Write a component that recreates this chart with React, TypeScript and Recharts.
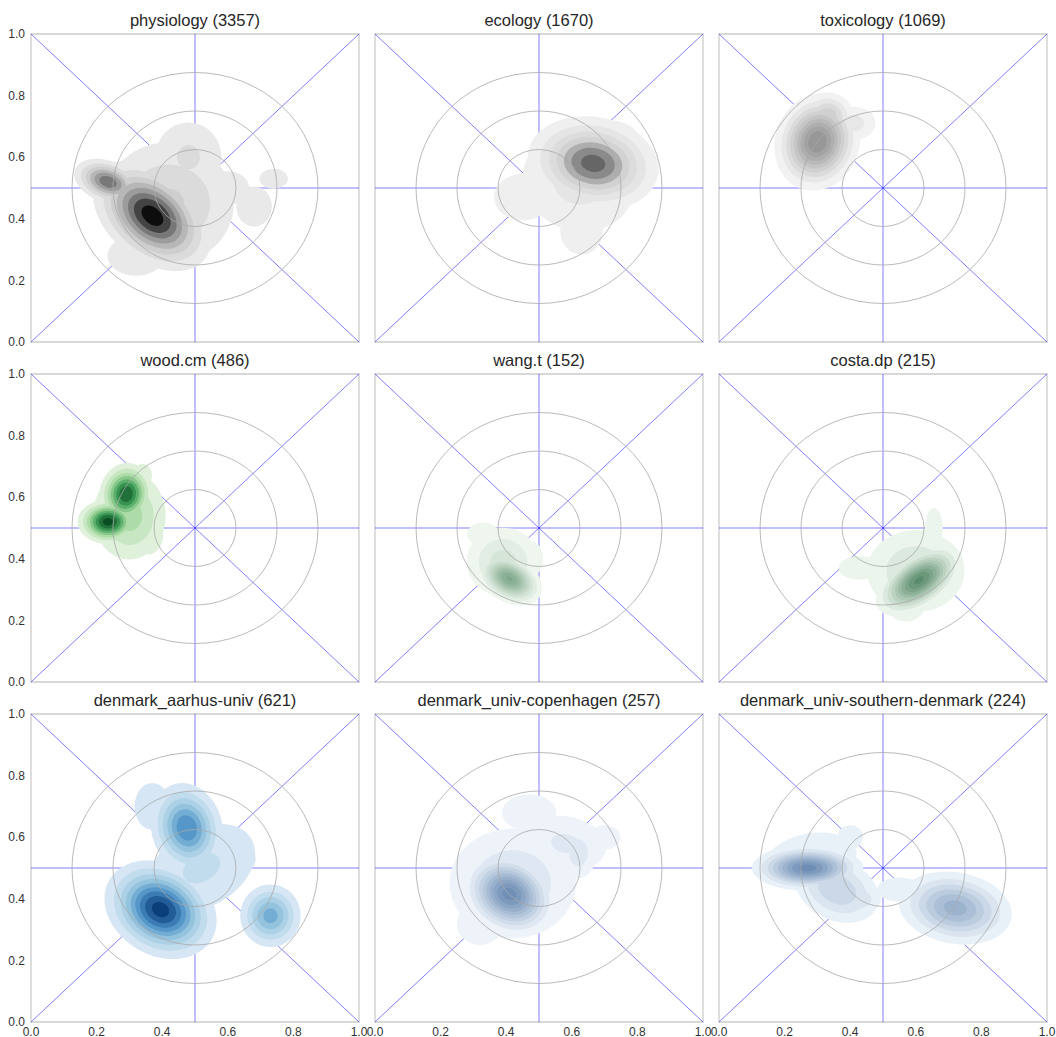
import { ReferenceArea, ReferenceLine, Scatter, ScatterChart, XAxis, YAxis } from "recharts";

// plot geometry (pixels)
const PLOT_W = 328;
const PLOT_H = 308;
const Y_AXIS_W = 31;
const TOP = 34;
const X_AXIS_H = 20;
const RIGHT = 12;
const COL_STRIDE = 344;
const ROW_STRIDE = 340;

const ticks = [0, 0.2, 0.4, 0.6, 0.8, 1.0];
const rings = [0.125, 0.25, 0.375];

// each blob: x, y, sdX, sdY, angle (deg), peak (in contour levels)
type Blob = [number, number, number, number, number, number];

const physiologyBlobs: Blob[] = [
  [0.37, 0.41, 0.1, 0.07, 40, 8.6],
  [0.235, 0.52, 0.055, 0.035, 20, 6.8],
  [0.3, 0.47, 0.06, 0.04, 40, 4],
  [0.42, 0.45, 0.13, 0.13, 0, 3.2],
  [0.48, 0.6, 0.08, 0.09, 0, 2.2],
  [0.32, 0.28, 0.08, 0.06, 0, 1.8],
  [0.74, 0.53, 0.04, 0.03, 0, 1.8],
  [0.68, 0.44, 0.05, 0.06, 0, 1.8],
  [0.6, 0.5, 0.06, 0.05, 0, 1.8],
];

const ecologyBlobs: Blob[] = [
  [0.665, 0.58, 0.1, 0.075, 10, 7.5],
  [0.62, 0.52, 0.13, 0.12, 20, 2.4],
  [0.63, 0.36, 0.06, 0.07, 0, 1.8],
  [0.45, 0.47, 0.08, 0.07, 0, 1.8],
  [0.72, 0.66, 0.07, 0.05, 0, 2],
];

const toxicologyBlobs: Blob[] = [
  [0.3, 0.65, 0.06, 0.075, 20, 10],
  [0.33, 0.73, 0.045, 0.045, 0, 5],
  [0.41, 0.71, 0.05, 0.04, 0, 2.5],
  [0.29, 0.56, 0.04, 0.05, 0, 2.2],
];

const woodBlobs: Blob[] = [
  [0.235, 0.52, 0.045, 0.035, 0, 8.5],
  [0.29, 0.61, 0.04, 0.05, 10, 8],
  [0.3, 0.54, 0.07, 0.09, 0, 3.5],
  [0.36, 0.48, 0.04, 0.06, 0, 1.8],
  [0.34, 0.67, 0.03, 0.04, 0, 1.6],
];

const wangBlobs: Blob[] = [
  [0.41, 0.335, 0.05, 0.035, 30, 10.2],
  [0.39, 0.39, 0.07, 0.07, 0, 3.5],
  [0.33, 0.48, 0.045, 0.035, 0, 1.8],
  [0.48, 0.4, 0.03, 0.05, 0, 1.8],
];

const costaBlobs: Blob[] = [
  [0.61, 0.33, 0.07, 0.04, -35, 10.3],
  [0.6, 0.36, 0.1, 0.09, 0, 3],
  [0.43, 0.37, 0.06, 0.035, 0, 1.8],
  [0.655, 0.5, 0.025, 0.06, 0, 1.8],
  [0.57, 0.24, 0.05, 0.04, 0, 1.8],
];

const aarhusBlobs: Blob[] = [
  [0.395, 0.365, 0.085, 0.07, 30, 9.5],
  [0.475, 0.63, 0.055, 0.075, -15, 7],
  [0.73, 0.345, 0.05, 0.055, 0, 5.5],
  [0.52, 0.5, 0.14, 0.1, -30, 2.2],
  [0.37, 0.7, 0.05, 0.07, 0, 1.8],
  [0.62, 0.53, 0.06, 0.05, 0, 1.8],
  [0.32, 0.45, 0.05, 0.06, 0, 1.8],
];

const copenhagenBlobs: Blob[] = [
  [0.41, 0.415, 0.07, 0.06, 30, 10.5],
  [0.42, 0.45, 0.13, 0.12, 0, 3],
  [0.58, 0.58, 0.1, 0.07, 10, 2.2],
  [0.62, 0.55, 0.04, 0.06, 0, 2.6],
  [0.47, 0.68, 0.07, 0.05, 0, 2],
  [0.32, 0.32, 0.06, 0.06, 0, 2],
  [0.7, 0.6, 0.05, 0.04, 0, 1.6],
];

const southernBlobs: Blob[] = [
  [0.27, 0.5, 0.08, 0.035, 0, 9.5],
  [0.36, 0.43, 0.08, 0.06, 25, 4],
  [0.42, 0.4, 0.05, 0.035, 0, 3],
  [0.72, 0.37, 0.09, 0.06, 10, 6.5],
  [0.28, 0.53, 0.12, 0.07, -10, 2],
  [0.55, 0.43, 0.07, 0.04, 0, 1.6],
  [0.4, 0.6, 0.04, 0.04, 0, 1.6],
];

type Panel = {
  title: string;
  blobs: Blob[];
  ramp: string[];
  levels: number;
};

const greys = ["#e9e9e9", "#c9c9c9", "#8a8a8a", "#0d0d0d"];
const greens = ["#e0f1db", "#a6d9a0", "#3f9f58", "#0a4d22"];
const blues = ["#d6e6f4", "#9ecae1", "#4a90c6", "#0b3f7a"];

const panels: Panel[] = [
  { title: "physiology (3357)", blobs: physiologyBlobs, ramp: greys, levels: 8 },
  { title: "ecology (1670)", blobs: ecologyBlobs, ramp: ["#efefef", "#d2d2d2", "#666666"], levels: 7 },
  { title: "toxicology (1069)", blobs: toxicologyBlobs, ramp: ["#f2f2f2", "#8c8c8c"], levels: 10 },
  { title: "wood.cm (486)", blobs: woodBlobs, ramp: greens, levels: 8 },
  { title: "wang.t (152)", blobs: wangBlobs, ramp: ["#eef6ee", "#7ea88a"], levels: 10 },
  { title: "costa.dp (215)", blobs: costaBlobs, ramp: ["#ecf5ec", "#5b8d6c"], levels: 10 },
  { title: "denmark_aarhus-univ (621)", blobs: aarhusBlobs, ramp: blues, levels: 9 },
  { title: "denmark_univ-copenhagen (257)", blobs: copenhagenBlobs, ramp: ["#edf3f9", "#6f8fb6"], levels: 10 },
  { title: "denmark_univ-southern-denmark (224)", blobs: southernBlobs, ramp: ["#e9f1f8", "#6d8db5"], levels: 9 },
];

function rampColor(ramp: string[], t: number) {
  const seg = Math.min(ramp.length - 2, Math.floor(t * (ramp.length - 1)));
  const f = t * (ramp.length - 1) - seg;
  const a = ramp[seg];
  const b = ramp[seg + 1];
  const pa = [1, 3, 5].map((i) => parseInt(a.slice(i, i + 2), 16));
  const pb = [1, 3, 5].map((i) => parseInt(b.slice(i, i + 2), 16));
  return "rgb(" + pa.map((v, i) => Math.round(v + (pb[i] - v) * f)).join(",") + ")";
}

// contour layers ordered by level so that equal levels merge visually
function contourLayers(p: Panel) {
  const out: any[] = [];
  for (let L = 1; L <= p.levels; L++) {
    const color = rampColor(p.ramp, (L - 1) / (p.levels - 1));
    p.blobs.forEach(([x, y, sx, sy, angle, peak]) => {
      if (peak > L) {
        out.push({ x, y, sx, sy, angle, k: Math.sqrt(2 * Math.log(peak / L)), color });
      }
    });
  }
  return out;
}

const ContourShape = (props: any) => {
  const { cx, cy, payload } = props;
  const rx = payload.sx * payload.k * PLOT_W;
  const ry = payload.sy * payload.k * PLOT_H;
  return (
    <ellipse
      cx={cx}
      cy={cy}
      rx={rx}
      ry={ry}
      transform={`rotate(${payload.angle} ${cx} ${cy})`}
      fill={payload.color}
      stroke="none"
    />
  );
};

const RingShape = (props: any) => {
  const { cx, cy, payload } = props;
  return (
    <ellipse
      cx={cx}
      cy={cy}
      rx={payload.r * PLOT_W}
      ry={payload.r * PLOT_H}
      fill="none"
      stroke="#a8a8a8"
      strokeWidth={0.8}
    />
  );
};

const ringData = rings.map((r) => ({ x: 0.5, y: 0.5, r }));
const tickStyle = { fontSize: 12, fill: "#333333", fontFamily: "Liberation Sans, Arial, sans-serif" };
const blue = "#0000ff";

function KdePanel({ panel, row, col }: { panel: Panel; row: number; col: number }) {
  const showX = row === 2;
  const showY = col === 0;
  return (
    <div
      style={{
        position: "absolute",
        left: col * COL_STRIDE,
        top: row * ROW_STRIDE,
        width: Y_AXIS_W + PLOT_W + RIGHT,
        height: TOP + PLOT_H + X_AXIS_H,
      }}
    >
      <div
        style={{
          position: "absolute",
          left: Y_AXIS_W - 20,
          width: PLOT_W + 40,
          top: TOP - 23,
          textAlign: "center",
          fontSize: 16.5,
          lineHeight: "19px",
          color: "#262626",
          whiteSpace: "nowrap",
        }}
      >
        {panel.title}
      </div>
      <ScatterChart
        width={Y_AXIS_W + PLOT_W + RIGHT}
        height={TOP + PLOT_H + X_AXIS_H}
        margin={{ top: TOP, right: RIGHT, bottom: 0, left: 0 }}
      >
        <XAxis
          type="number"
          dataKey="x"
          domain={[0, 1]}
          ticks={ticks}
          interval={0}
          allowDataOverflow
          height={X_AXIS_H}
          axisLine={false}
          tickLine={false}
          tickSize={3}
          tick={showX ? tickStyle : false}
          tickFormatter={(v: number) => v.toFixed(1)}
        />
        <YAxis
          type="number"
          dataKey="y"
          domain={[0, 1]}
          ticks={ticks}
          interval={0}
          allowDataOverflow
          width={Y_AXIS_W}
          axisLine={false}
          tickLine={false}
          tickSize={4}
          tick={showY ? tickStyle : false}
          tickFormatter={(v: number) => v.toFixed(1)}
        />
        <Scatter data={contourLayers(panel)} shape={ContourShape} isAnimationActive={false} />
        <Scatter data={ringData} shape={RingShape} isAnimationActive={false} />
        <ReferenceLine x={0.5} stroke={blue} strokeOpacity={0.5} strokeWidth={1} />
        <ReferenceLine y={0.5} stroke={blue} strokeOpacity={0.5} strokeWidth={1} />
        <ReferenceLine
          segment={[{ x: 0, y: 0 }, { x: 1, y: 1 }]}
          stroke={blue}
          strokeOpacity={0.5}
          strokeWidth={1}
        />
        <ReferenceLine
          segment={[{ x: 0, y: 1 }, { x: 1, y: 0 }]}
          stroke={blue}
          strokeOpacity={0.5}
          strokeWidth={1}
        />
        <ReferenceArea x1={0} x2={1} y1={0} y2={1} fill="none" fillOpacity={0} stroke="#cccccc" strokeWidth={1.3} />
      </ScatterChart>
    </div>
  );
}

export default function App() {
  return (
    <div
      style={{
        position: "absolute",
        left: 0,
        top: 0,
        width: 1056,
        height: 1037,
        background: "#ffffff",
        fontFamily: "Liberation Sans, Arial, sans-serif",
      }}
    >
      {panels.map((p, i) => (
        <KdePanel key={p.title} panel={p} row={Math.floor(i / 3)} col={i % 3} />
      ))}
    </div>
  );
}
